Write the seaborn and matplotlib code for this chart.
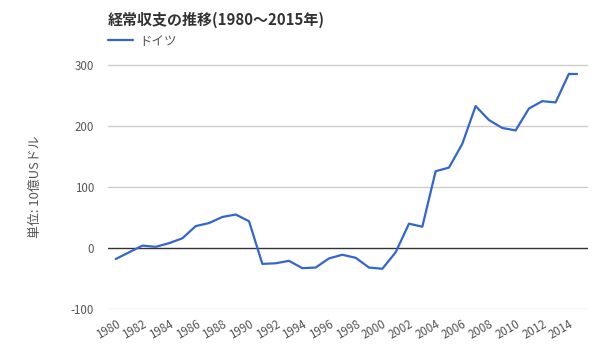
import pandas as pd
import seaborn as sns
from matplotlib import pyplot as plt

years = list(range(1980, 2016))
values = [-18, -7, 4, 2, 8, 16, 36, 41, 51, 55, 44, -26, -25, -21, -33, -32,
          -17, -11, -16, -32, -34, -7, 40, 35, 126, 132, 171, 233, 210, 197,
          193, 229, 241, 239, 286, 286]
series_name = 'ドイツ'
title = '経常収支の推移(1980～2015年)'
ylabel = '単位: 10億USドル'
yticks = [-100, 0, 100, 200, 300]
xticks = list(range(1980, 2015, 2))

df = pd.DataFrame({'year': years, 'value': values})

sns.set_style('white')
plt.rcParams['font.family'] = ['Noto Sans CJK JP', 'DejaVu Sans']
plt.rcParams['axes.unicode_minus'] = False

fig = plt.figure(figsize=(6, 3.6), dpi=100)
ax = fig.add_axes([0.18, 0.1417, 0.80, 0.733])

c = '#3366CC'
sns.lineplot(data=df.iloc[:-1], x='year', y='value', color=c, lw=1.6, ax=ax, label=series_name)
sns.lineplot(data=df.iloc[-2:], x='year', y='value', color=c, lw=1.6, ax=ax,
             linestyle=(0, (4, 2)), legend=False)

for v in yticks:
    if v == 0:
        ax.axhline(0, color='#333333', lw=1, zorder=1)
    else:
        ax.axhline(v, color='#cccccc', lw=1, zorder=0)

ax.set_xlim(1979.42, 2015.43)
ax.set_ylim(-100, 333)
ax.set_yticks(yticks)
ax.set_xticks(xticks)
ax.set_xticklabels([str(x) for x in xticks], rotation=30, ha='right', rotation_mode='anchor')
ax.tick_params(axis='both', length=0, labelsize=8.3, labelcolor='#555555')
ax.tick_params(axis='x', pad=6)
ax.tick_params(axis='y', pad=10)
for s in ax.spines.values():
    s.set_visible(False)
ax.set_xlabel('')
ax.set_ylabel(ylabel, color='#555555', fontsize=9.3)
ax.yaxis.set_label_coords(-0.137, 0.462)

fig.text(0.18, 0.945, title, fontsize=10.8, fontweight='bold', color='#333333', va='center')
ax.legend(loc='upper left', bbox_to_anchor=(0.0, 1.04), frameon=False, fontsize=9,
          handlelength=2, handletextpad=0.5, borderaxespad=0, borderpad=0,
          labelcolor='#555555')

fig.savefig('out.png', dpi=100)
